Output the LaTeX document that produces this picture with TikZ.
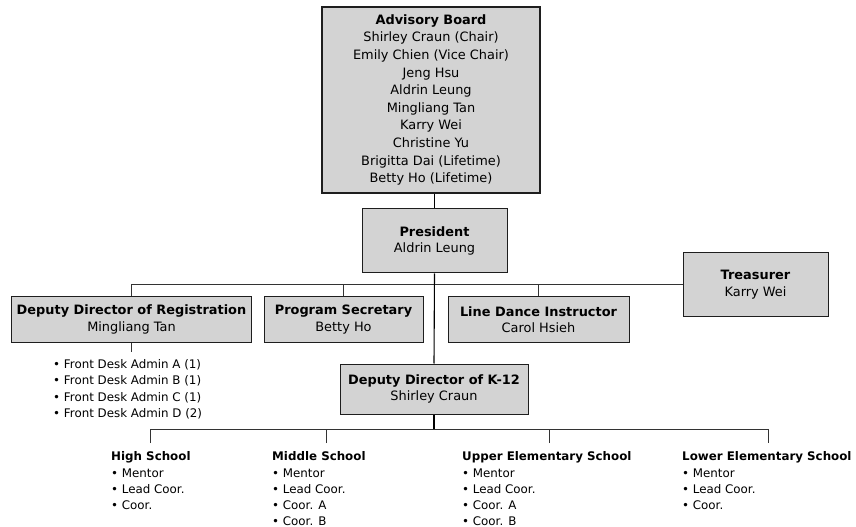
\documentclass[tikz,border=0pt]{standalone}
\usepackage{fontspec}
\setmainfont{DejaVu Sans}
\definecolor{boxfill}{RGB}{211,211,211}
\definecolor{boxline}{RGB}{30,30,30}
\newcommand\fsz{\fontsize{12.9bp}{16.3bp}\selectfont}
\newcommand\fszab{\fontsize{12.9bp}{17.6bp}\selectfont}
\newcommand\fszl{\fontsize{11.85bp}{16.3bp}\selectfont}
\begin{document}
\begin{tikzpicture}[x=1bp,y=-1bp,
  box/.style={draw=boxline, line width=1bp, fill=boxfill, inner sep=0pt, align=center, font=\fsz},
  lst/.style={inner sep=0pt, align=left, anchor=base west, font=\fszl},
  conn/.style={draw=black!80, line width=0.8bp},
  trunk/.style={draw=black, line width=1.1bp}]
\useasboundingbox (0,0) rectangle (856,527);
% boxes
\node[box, line width=2bp, font=\fszab, minimum width=218bp, minimum height=186bp] (ab) at (431,100)
  {\textbf{Advisory Board}\\Shirley Craun (Chair)\\Emily Chien (Vice Chair)\\Jeng Hsu\\Aldrin Leung\\Mingliang Tan\\Karry Wei\\Christine Yu\\Brigitta Dai (Lifetime)\\Betty Ho (Lifetime)};
\node[box, minimum width=145bp, minimum height=64bp] (pres) at (434.5,241) {\textbf{President}\\Aldrin Leung};
\node[box, minimum width=145bp, minimum height=63bp] (tre) at (755.5,284.5) {\textbf{Treasurer}\\Karry Wei};
\node[box, minimum width=239bp, minimum height=45bp] (ddr) at (131.5,319.5) {\textbf{Deputy Director of Registration}\\Mingliang Tan};
\node[box, minimum width=159bp, minimum height=45bp] (ps) at (343.5,319.5) {\textbf{Program Secretary}\\Betty Ho};
\node[box, minimum width=181bp, minimum height=45bp] (ldi) at (538.5,319.5) {\textbf{Line Dance Instructor}\\Carol Hsieh};
\node[box, minimum width=188bp, minimum height=50bp] (k12) at (434,389) {\textbf{Deputy Director of K-12}\\Shirley Craun};
% lists (anchored at the baseline of their last line)
\node[lst] (fd) at (53,417.3) {• Front Desk Admin A (1)\\• Front Desk Admin B (1)\\• Front Desk Admin C (1)\\• Front Desk Admin D (2)};
\node[lst] (hs) at (111,509.6) {\textbf{High School}\\• Mentor\\• Lead Coor.\\• Coor.};
\node[lst] (ms) at (272,525.9) {\textbf{Middle School}\\• Mentor\\• Lead Coor.\\• Coor. A\\• Coor. B};
\node[lst] (ue) at (462,525.9) {\textbf{Upper Elementary School}\\• Mentor\\• Lead Coor.\\• Coor. A\\• Coor. B};
\node[lst] (le) at (682,509.6) {\textbf{Lower Elementary School}\\• Mentor\\• Lead Coor.\\• Coor.};
% connector ends
\coordinate (fdt) at (131.5,352);
\coordinate (bar) at (434,429);
\coordinate (d1) at (150,443);
\coordinate (d2) at (326,443);
\coordinate (d3) at (549,443);
\coordinate (d4) at (768,443);
% connectors
\draw[conn] (ddr.north) |- (tre.west);
\draw[conn] (ps.north) -- (ps.north |- tre.west);
\draw[conn] (ldi.north) -- (ldi.north |- tre.west);
\draw[trunk] (ab.south -| pres.north) -- (pres.north);
\draw[trunk] (pres.south) -- (k12.north);
\draw[conn] (ddr.south) -- (fdt);
\draw[trunk] (k12.south) -- (bar);
\draw[conn] (d1) -- (d1 |- bar) -- (d4 |- bar) -- (d4);
\draw[conn] (d2) -- (d2 |- bar);
\draw[conn] (d3) -- (d3 |- bar);
\end{tikzpicture}
\end{document}
